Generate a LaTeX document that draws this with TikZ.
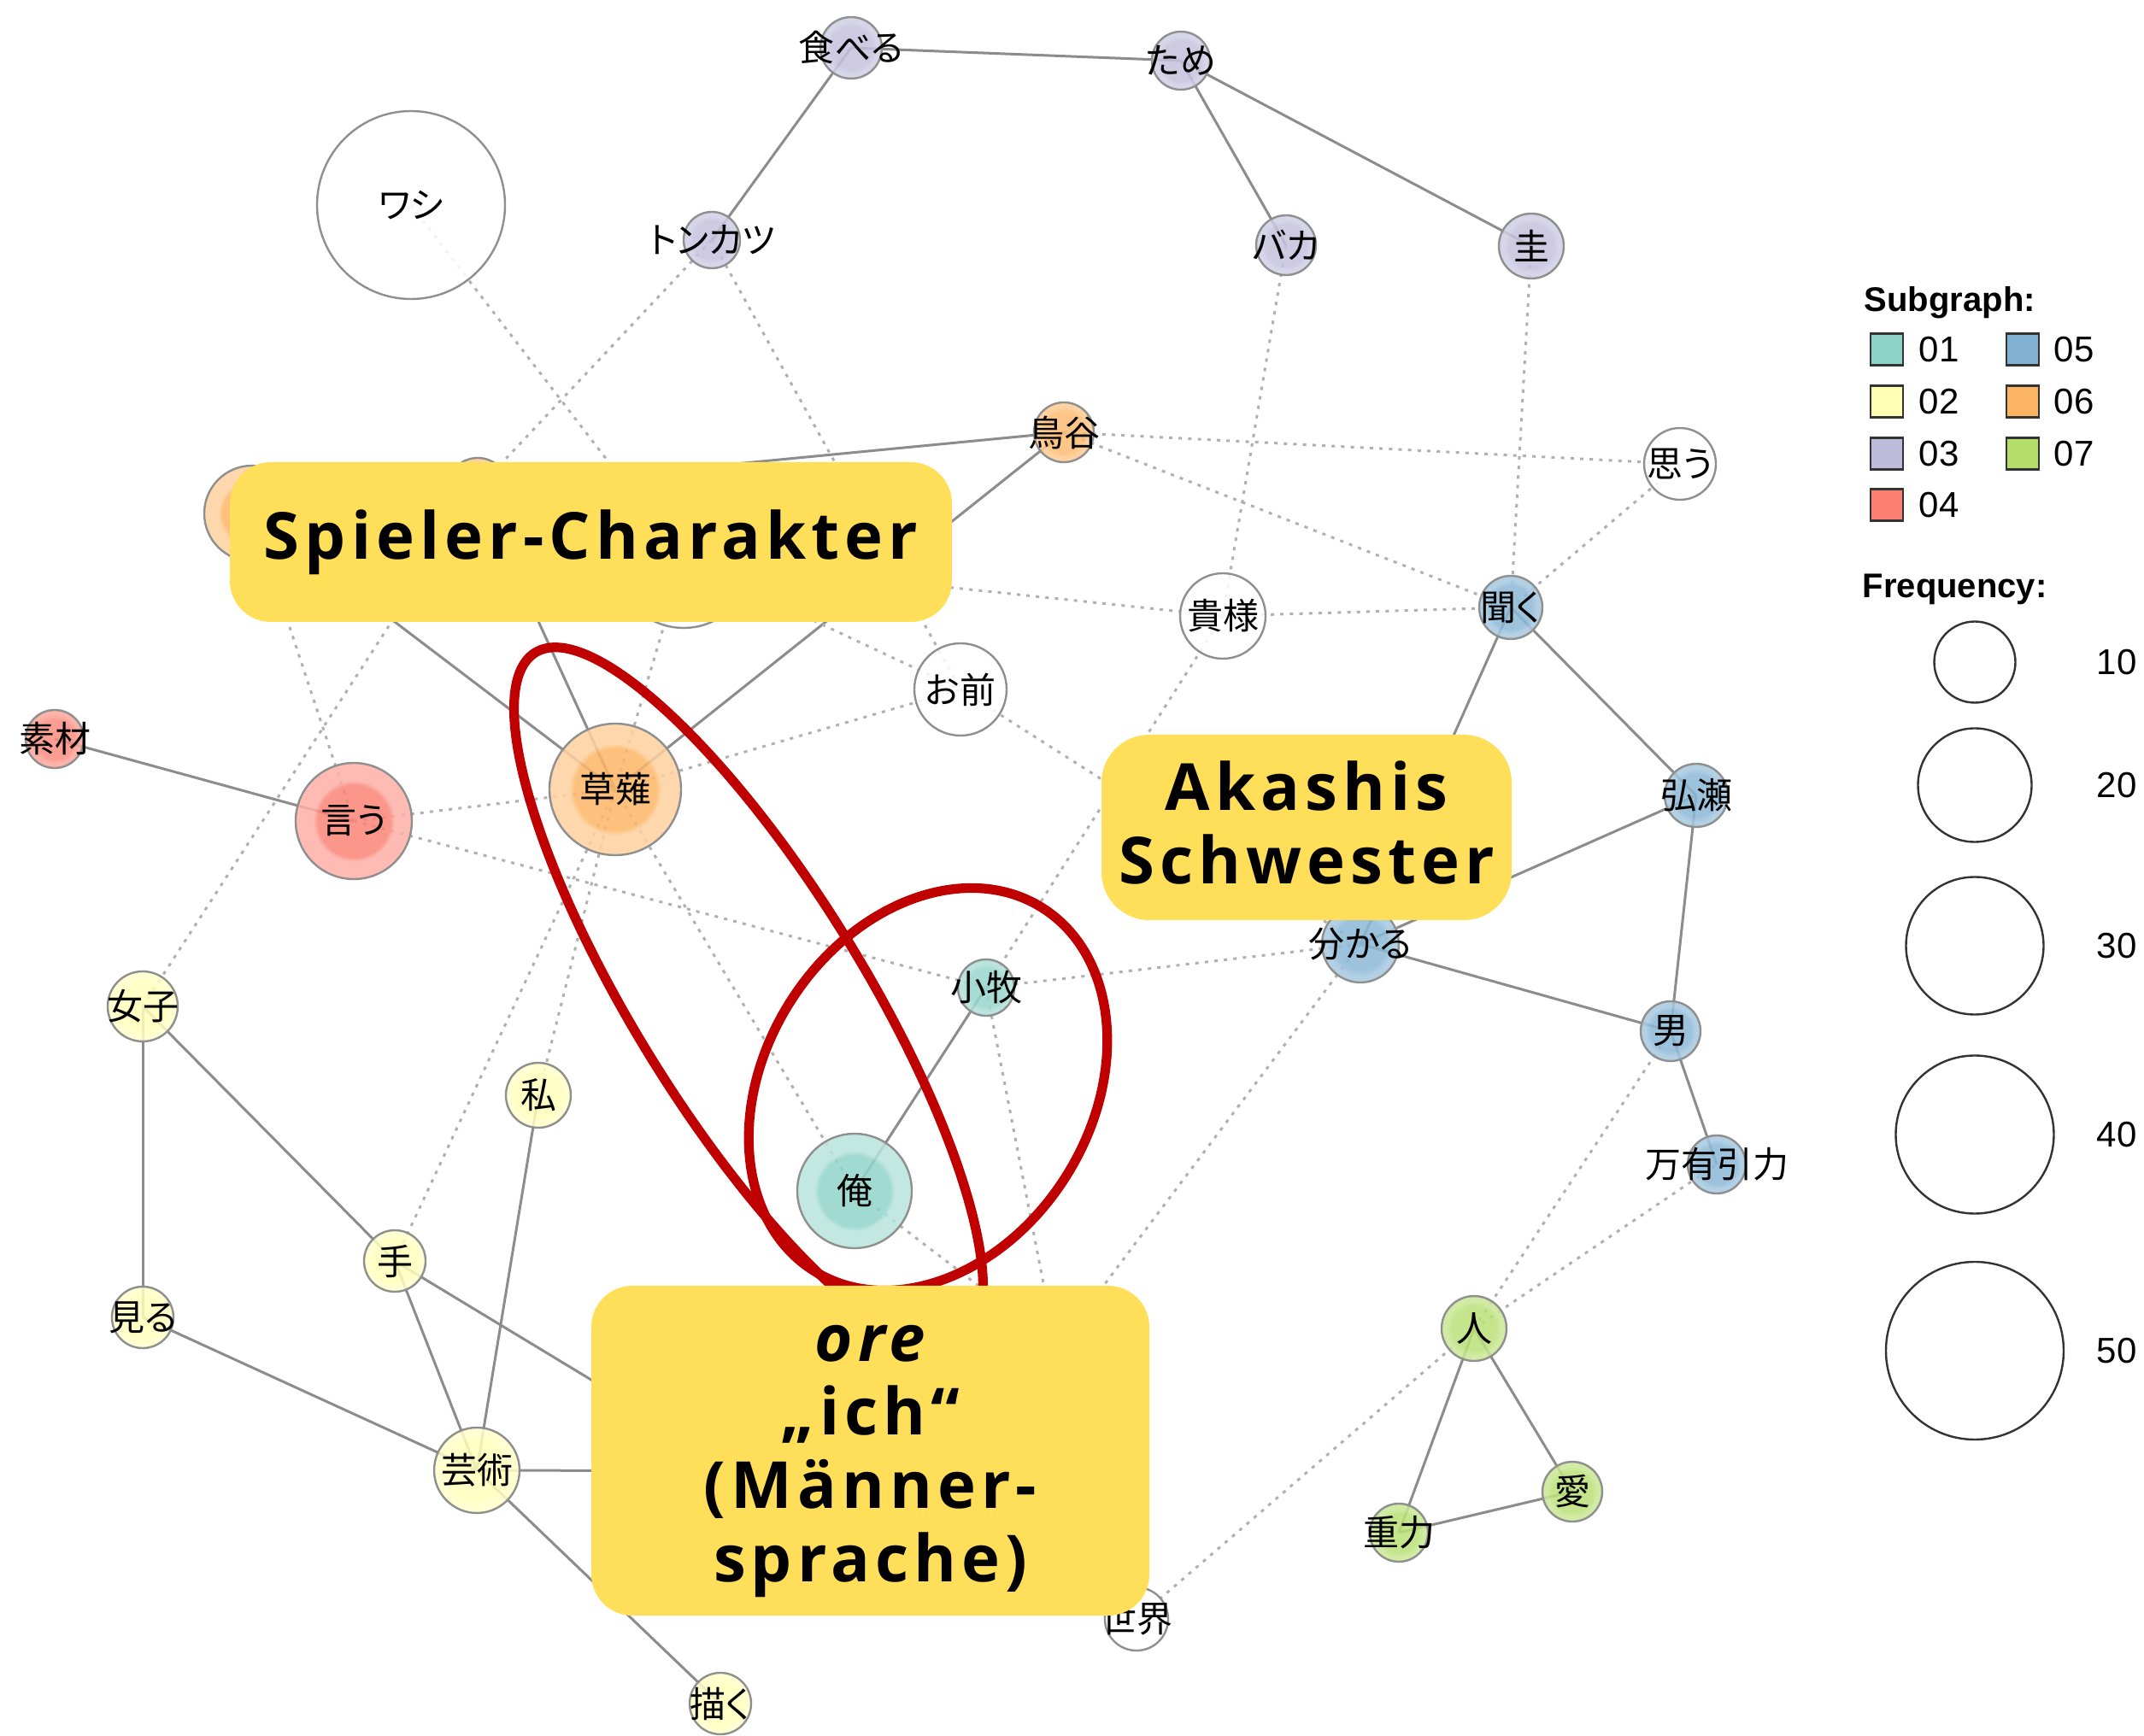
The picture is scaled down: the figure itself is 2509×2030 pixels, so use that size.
\documentclass[tikz,border=0pt]{standalone}
\usepackage{fontspec}
\setmainfont{Liberation Sans}
\newfontfamily\jpfont{Noto Sans CJK JP}[RawFeature=+palt]
\newfontfamily\callfont{Open Sans}[LetterSpace=8]
\pgfdeclarelayer{bg}
\pgfsetlayers{bg,main}
\definecolor{c1}{HTML}{8DD3C7}
\definecolor{c2}{HTML}{FFFFB3}
\definecolor{c3}{HTML}{BEBADA}
\definecolor{c4}{HTML}{FB8072}
\definecolor{c5}{HTML}{80B1D3}
\definecolor{c6}{HTML}{FDB462}
\definecolor{c7}{HTML}{B3DE69}
\definecolor{edgegray}{HTML}{8C8C8C}
\definecolor{dotgray}{HTML}{B0B0B0}
\definecolor{nodeborder}{HTML}{8F8F8F}
\definecolor{callout}{HTML}{FFDE59}
\definecolor{redring}{HTML}{C00000}
\definecolor{legborder}{HTML}{333333}
\newcommand\mkshades[1]{%
  \colorlet{#1in}{#1!97!white}%
  \colorlet{#1out}{#1!62!white}%
  \colorlet{#1sin}{#1!90!white}%
  \colorlet{#1sout}{#1!70!white}%
  \pgfdeclareradialshading{#1big}{\pgfpointorigin}{color(0bp)=(#1in); color(15.5bp)=(#1in); color(17.5bp)=(#1out); color(25bp)=(#1out); color(50bp)=(#1out)}%
  \pgfdeclareradialshading{#1small}{\pgfpointorigin}{color(0bp)=(#1sin); color(17bp)=(#1sin); color(21bp)=(#1sout); color(25bp)=(#1sout); color(50bp)=(#1sout)}%
}
\mkshades{c1}\mkshades{c2}\mkshades{c3}\mkshades{c4}\mkshades{c5}\mkshades{c6}\mkshades{c7}
\begin{document}
\begin{tikzpicture}[x=0.25pt,y=-0.25pt,
  gnode/.style={circle, draw=nodeborder, line width=0.6pt, inner sep=0pt, shade, shading=#1, fill opacity=0.85},
  wnode/.style={circle, draw=nodeborder, line width=0.6pt, inner sep=0pt, fill=white, fill opacity=0.85},
  jlab/.style={font=\jpfont\fontsize{10.5}{12}\selectfont, text=black, inner sep=0pt},
  solidedge/.style={draw=edgegray, line width=0.75pt},
  dotedge/.style={draw=dotgray, line width=0.75pt, dash pattern=on 1pt off 1.8pt},
  ring/.style={draw=redring, line width=2.8pt},
  callbox/.style={fill=callout, rounded corners=12pt, inner sep=0pt, text=black, font=\callfont\bfseries\fontsize{19}{21.5}\selectfont, align=center},
  legsq/.style={draw=legborder, line width=0.7pt, minimum width=9.5pt, minimum height=9.25pt, inner sep=0pt},
  legtxt/.style={font=\fontsize{10.5}{12}\selectfont, inner sep=0pt},
  legtitle/.style={font=\bfseries\fontsize{10}{12}\selectfont, inner sep=0pt},
  freqc/.style={circle, draw=legborder, line width=0.6pt, inner sep=0pt}
]
\begin{pgfonlayer}{bg}
\path[use as bounding box, fill=white] (0,0) rectangle (2509,2030);
\end{pgfonlayer}

% ---- graph nodes ----
\node[gnode=c3small, minimum size=18pt, label={[jlab]center:食べる}] (taberu) at (996,56) {};
\node[gnode=c3small, minimum size=17pt, label={[jlab]center:ため}] (tame) at (1382,71) {};
\node[gnode=c3small, minimum size=16.5pt, label={[jlab]center:トンカツ}] (tonkatsu) at (833,281) {};
\node[gnode=c3small, minimum size=17.5pt, label={[jlab]center:バカ}] (baka) at (1505,287) {};
\node[gnode=c3small, minimum size=19pt, label={[jlab]center:圭}] (kei) at (1792,288) {};
\node[wnode, minimum size=55pt, label={[jlab]center:ワシ}] (washi) at (481,240) {};
\node[gnode=c6small, minimum size=17.5pt, label={[jlab]center:鳥谷}] (toriya) at (1245,506) {};
\node[wnode, minimum size=21pt, label={[jlab]center:思う}] (omou) at (1966,543) {};
\node[gnode=c6big, minimum size=28pt] (A) at (295,601) {};
\node[gnode=c6small, minimum size=18pt] (B) at (559,572) {};
\node[wnode, minimum size=40pt] (C) at (800,655) {};
\node[gnode=c5small, minimum size=18.5pt, label={[jlab]center:聞く}] (kiku) at (1768,711) {};
\node[wnode, minimum size=25pt, label={[jlab]center:貴様}] (kisama) at (1431,721) {};
\node[wnode, minimum size=27pt, label={[jlab]center:お前}] (omae) at (1124,807) {};
\node[gnode=c4small, minimum size=17pt, label={[jlab]center:素材}] (sozai) at (64,865) {};
\node[gnode=c4big, minimum size=34pt, label={[jlab]center:言う}] (iu) at (414,961) {};
\node[gnode=c6big, minimum size=38.5pt, label={[jlab]center:草薙}] (kusanagi) at (720,924) {};
\node[gnode=c5small, minimum size=18.5pt, label={[jlab]center:弘瀬}] (hirose) at (1985,931) {};
\node[gnode=c5small, minimum size=22.5pt, label={[jlab]center:分かる}] (wakaru) at (1592,1105) {};
\node[gnode=c1small, minimum size=16.5pt, label={[jlab]center:小牧}] (komaki) at (1154,1156) {};
\node[gnode=c5small, minimum size=17.5pt, label={[jlab]center:男}] (otoko) at (1955,1207) {};
\node[gnode=c2small, minimum size=20.5pt, label={[jlab]center:女子}] (joshi) at (167,1178) {};
\node[gnode=c2small, minimum size=19pt, label={[jlab]center:私}] (watashi) at (630,1282) {};
\node[gnode=c1big, minimum size=33.5pt, label={[jlab]center:俺}] (ore) at (1000,1394) {};
\node[gnode=c5small, minimum size=17pt, label={[jlab]center:万有引力}] (banyu) at (2009,1363) {};
\node[gnode=c2small, minimum size=18pt, label={[jlab]center:手}] (te) at (462,1476) {};
\node[gnode=c2small, minimum size=18pt, label={[jlab]center:見る}] (miru) at (167,1542) {};
\node[gnode=c7small, minimum size=19pt, label={[jlab]center:人}] (hito) at (1725,1555) {};
\node[gnode=c2small, minimum size=25pt, label={[jlab]center:芸術}] (geijutsu) at (558,1721) {};
\node[gnode=c7small, minimum size=17.5pt, label={[jlab]center:愛}] (ai) at (1840,1746) {};
\node[gnode=c7small, minimum size=17pt, label={[jlab]center:重力}] (juryoku) at (1637,1794) {};
\node[wnode, minimum size=18.5pt, label={[jlab]center:世界}] (sekai) at (1330,1895) {};
\node[gnode=c2small, minimum size=18pt, label={[jlab]center:描く}] (kaku) at (843,1994) {};
\coordinate (H1) at (1047,1830);
\coordinate (H2) at (950,1722);
\coordinate (H3) at (1200,1547);
\coordinate (H4) at (1240,1600);

% ---- edges (under nodes) ----
\begin{pgfonlayer}{bg}
\foreach \a/\b in {taberu/tame, taberu/tonkatsu, tame/baka, tame/kei, toriya/B, toriya/kusanagi,
  kusanagi/A, kusanagi/B, sozai/iu, kiku/hirose, kiku/wakaru, hirose/wakaru, hirose/otoko,
  wakaru/otoko, otoko/banyu, komaki/ore, joshi/miru, joshi/te, te/geijutsu, te/H1,
  miru/geijutsu, watashi/geijutsu, geijutsu/kaku, geijutsu/H2, hito/juryoku, hito/ai, juryoku/ai}
  \draw[solidedge] (\a.center) -- (\b.center);
\foreach \a/\b in {washi/C, tonkatsu/B, tonkatsu/omae, toriya/omou, toriya/kiku, baka/kisama,
  kei/kiku, omou/kiku, kisama/kiku, C/kisama, C/omae, kusanagi/C, kusanagi/omae, omae/wakaru,
  iu/kusanagi, iu/komaki, iu/A, joshi/B, kusanagi/te, kusanagi/watashi, kusanagi/ore,
  kisama/komaki, komaki/wakaru, komaki/H4, wakaru/H1, ore/H3, hito/otoko, hito/banyu, hito/sekai}
  \draw[dotedge] (\a.center) -- (\b.center);
\end{pgfonlayer}

% ---- red rings ----
\draw[ring, rotate around={-58.3:(876,1168)}] (876,1168) ellipse (475 and 134);
\draw[ring, rotate around={57.8:(1086,1275)}] (1086,1275) ellipse (251 and 191);

% ---- callouts ----
\node[callbox, minimum width=211.25pt, minimum height=46.75pt] (spieler) at (691.5,634.5) {Spieler-Charakter};
\node[callbox, rounded corners=14pt, minimum width=120pt, minimum height=54.25pt] (akashi) at (1529,968.5) {Akashis\\Schwester\rule[-3pt]{0pt}{0pt}};
\node[callbox, minimum width=163.25pt, minimum height=96.5pt] (orebox) at (1018.5,1698) {\rule{0pt}{17pt}{\itshape ore}\\„ich“\\(Männer-\\sprache)};

% ---- legend ----
\node[legtitle, anchor=base west] (subg) at (2181,365) {Subgraph:};
\node[legsq, fill=c1] (sq1) at (2208,409) {};
\node[legsq, fill=c2] (sq2) at (2208,470) {};
\node[legsq, fill=c3] (sq3) at (2208,531) {};
\node[legsq, fill=c4] (sq4) at (2208,591) {};
\node[legsq, fill=c5] (sq5) at (2367,409) {};
\node[legsq, fill=c6] (sq6) at (2367,470) {};
\node[legsq, fill=c7] (sq7) at (2367,531) {};
\node[legtxt, anchor=west] (l1) at (2245,409) {01};
\node[legtxt, anchor=west] (l2) at (2245,470) {02};
\node[legtxt, anchor=west] (l3) at (2245,531) {03};
\node[legtxt, anchor=west] (l4) at (2245,591) {04};
\node[legtxt, anchor=west] (l5) at (2403,409) {05};
\node[legtxt, anchor=west] (l6) at (2403,470) {06};
\node[legtxt, anchor=west] (l7) at (2403,531) {07};
\node[legtitle, anchor=base west] (freqt) at (2179,700) {Frequency:};
\node[freqc, minimum size=23.75pt] (f10) at (2311,775) {};
\node[freqc, minimum size=33.25pt] (f20) at (2311,919) {};
\node[freqc, minimum size=40.25pt] (f30) at (2311,1107) {};
\node[freqc, minimum size=46.25pt] (f40) at (2311,1328) {};
\node[freqc, minimum size=52pt] (f50) at (2311,1581) {};
\node[legtxt, anchor=west] (t10) at (2453,775) {10};
\node[legtxt, anchor=west] (t20) at (2453,919) {20};
\node[legtxt, anchor=west] (t30) at (2453,1107) {30};
\node[legtxt, anchor=west] (t40) at (2453,1328) {40};
\node[legtxt, anchor=west] (t50) at (2453,1581) {50};
\end{tikzpicture}
\end{document}
